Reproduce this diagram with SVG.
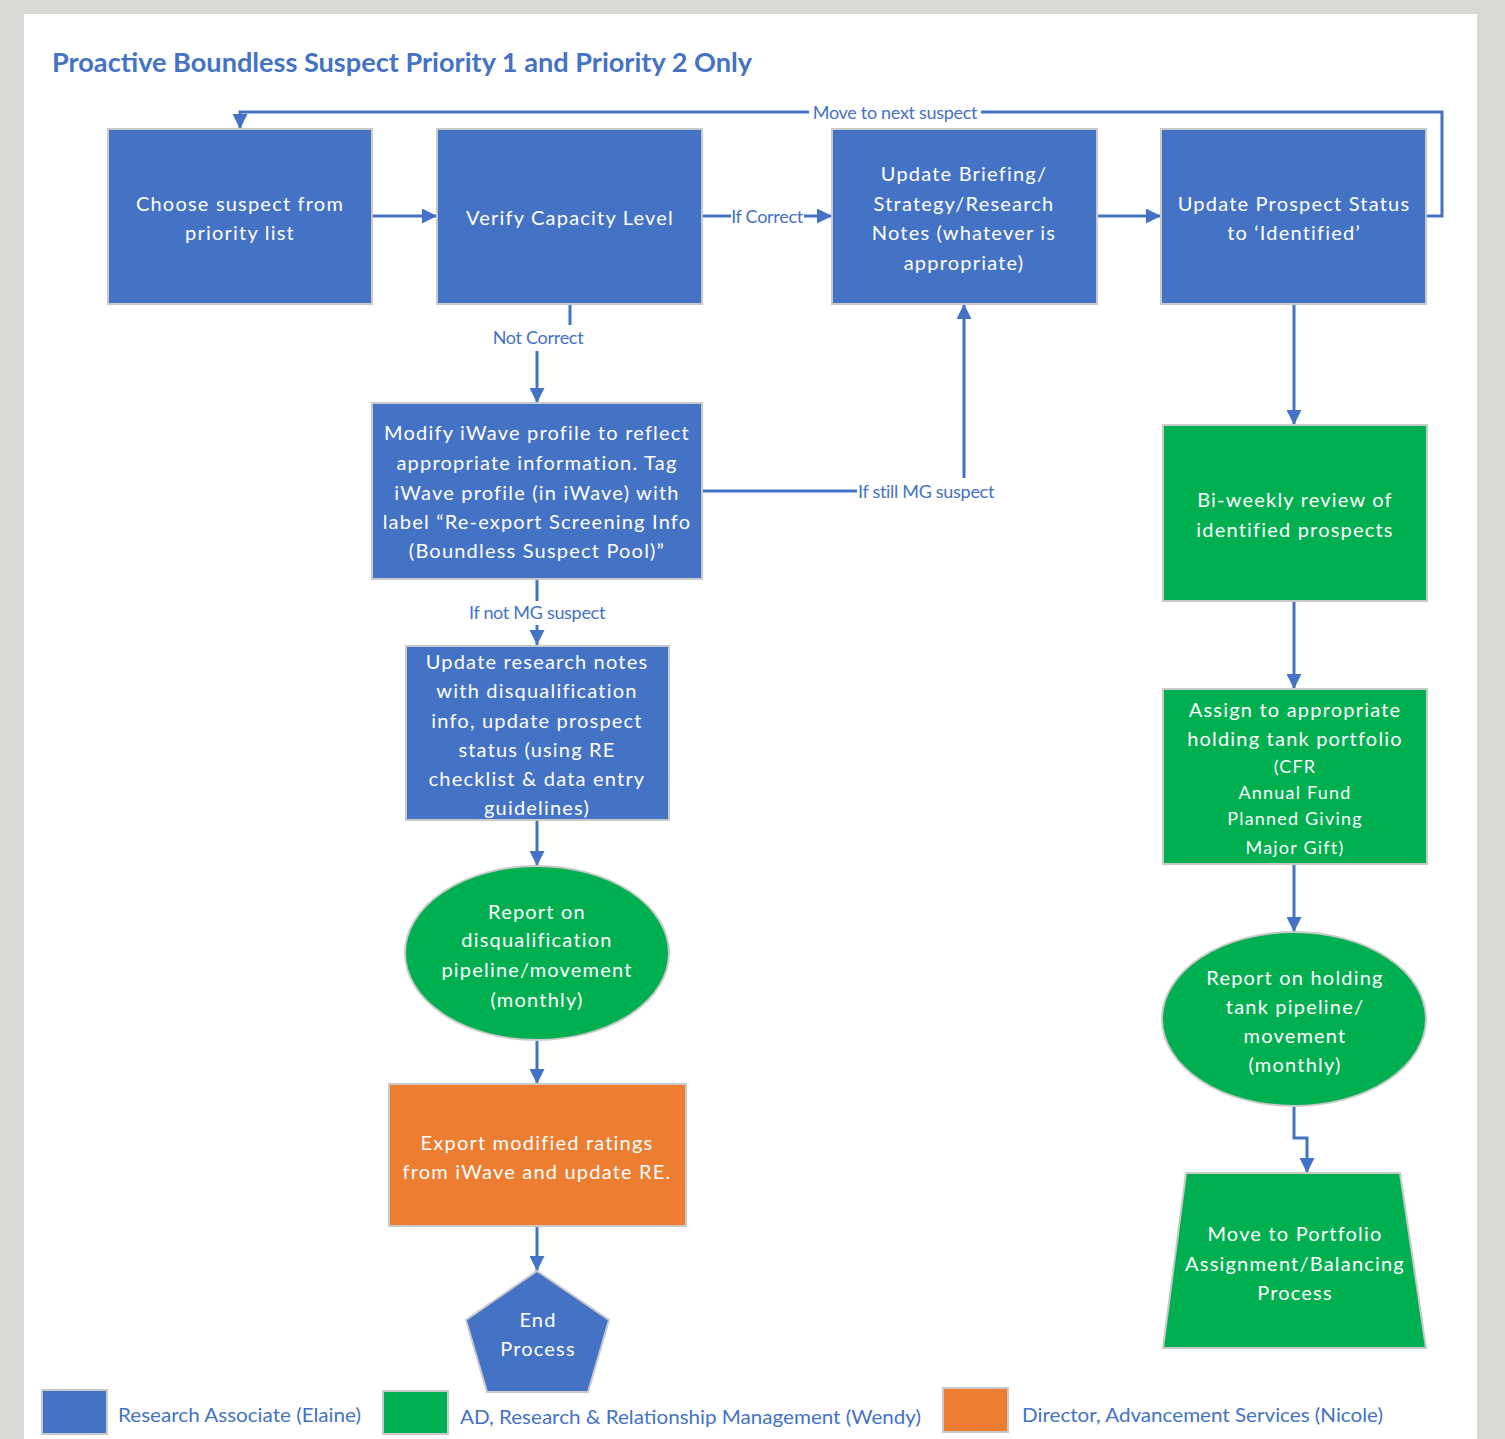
<svg xmlns="http://www.w3.org/2000/svg" width="1505" height="1439" viewBox="0 0 1505 1439">
<defs>
<marker id="arr" viewBox="0 0 10 10" refX="10" refY="5" markerWidth="15" markerHeight="15" markerUnits="userSpaceOnUse" orient="auto">
<path d="M0,0 L10,5 L0,10 z" fill="#4472c4"/>
</marker>
<style>
.bg{fill:#d9d9d5}
.panel{fill:#ffffff}
.title{font-family:Lato,"Liberation Sans",sans-serif;font-weight:bold;font-size:26px;fill:#4472c4}
.blue{fill:#4472c4;stroke:#c9c9c9;stroke-width:2}
.green{fill:#00b050;stroke:#c9c9c9;stroke-width:2}
.orange{fill:#ed7d31;stroke:#c9c9c9;stroke-width:2}
.t{font-family:Lato,"Liberation Sans",sans-serif;font-size:20px;fill:#ffffff;text-anchor:middle;dominant-baseline:central;letter-spacing:1.2px}
.ts{font-size:18px}
.c{fill:none;stroke:#4472c4;stroke-width:3}
.ca{fill:none;stroke:#4472c4;stroke-width:3;marker-end:url(#arr)}
.lbg{fill:#ffffff}
.lbl{font-family:Lato,"Liberation Sans",sans-serif;font-size:18px;fill:#4472c4;text-anchor:middle;dominant-baseline:central;letter-spacing:-0.3px}
.leg{font-family:Lato,"Liberation Sans",sans-serif;font-size:20px;fill:#4472c4;dominant-baseline:central}
</style>
</defs>
<rect class="bg" x="0" y="0" width="1505" height="1439"/>
<rect class="panel" x="24" y="14" width="1453" height="1425"/>
<text class="title" x="52" y="72" textLength="700" lengthAdjust="spacingAndGlyphs">Proactive Boundless Suspect Priority 1 and Priority 2 Only</text>

<g id="connectors">
<path class="ca" d="M372,216 H437"/>
<path class="ca" d="M702,216 H832"/>
<path class="ca" d="M1097,216 H1161"/>
<path class="ca" d="M1426,216 H1442 V112 H240 V129"/>
<path class="ca" d="M570,304 V337 H537 V403"/>
<path class="ca" d="M702,491 H964 V304"/>
<path class="ca" d="M537,579 V645"/>
<path class="ca" d="M537,820 V866"/>
<path class="ca" d="M537,1040 V1084"/>
<path class="ca" d="M537,1226 V1271"/>
<path class="ca" d="M1294,304 V425"/>
<path class="ca" d="M1294,601 V689"/>
<path class="ca" d="M1294,864 V932"/>
<path class="ca" d="M1294,1106 V1138 H1307 V1173"/>
<rect class="lbg" x="731" y="206" width="73" height="20"/>
<text class="lbl" x="767" y="216">If Correct</text>
<rect class="lbg" x="809" y="102" width="172" height="20"/>
<text class="lbl" x="895" y="112">Move to next suspect</text>
<rect class="lbg" x="490" y="325" width="96" height="26"/>
<text class="lbl" x="538" y="337">Not Correct</text>
<rect class="lbg" x="857" y="478" width="140" height="26"/>
<text class="lbl" x="926" y="491">If still MG suspect</text>
<rect class="lbg" x="465" y="601" width="144" height="24"/>
<text class="lbl" x="537" y="612">If not MG suspect</text>
</g>

<g id="n1">
<rect class="blue" x="108" y="129" width="264" height="175"/>
<text class="t" x="240" y="203">Choose suspect from</text>
<text class="t" x="240" y="232">priority list</text>
</g>
<g id="n2">
<rect class="blue" x="437" y="129" width="265" height="175"/>
<text class="t" x="570" y="217">Verify Capacity Level</text>
</g>
<g id="n3">
<rect class="blue" x="832" y="129" width="265" height="175"/>
<text class="t" x="964" y="173">Update Briefing/</text>
<text class="t" x="964" y="203">Strategy/Research</text>
<text class="t" x="964" y="232">Notes (whatever is</text>
<text class="t" x="964" y="262">appropriate)</text>
</g>
<g id="n4">
<rect class="blue" x="1161" y="129" width="265" height="175"/>
<text class="t" x="1294" y="203">Update Prospect Status</text>
<text class="t" x="1294" y="232">to ‘Identified’</text>
</g>
<g id="n5">
<rect class="blue" x="372" y="403" width="330" height="176"/>
<text class="t" x="537" y="432">Modify iWave profile to reflect</text>
<text class="t" x="537" y="462">appropriate information. Tag</text>
<text class="t" x="537" y="492">iWave profile (in iWave) with</text>
<text class="t" x="537" y="521">label “Re-export Screening Info</text>
<text class="t" x="537" y="550">(Boundless Suspect Pool)”</text>
</g>
<g id="n6">
<rect class="blue" x="406" y="646" width="263" height="174"/>
<text class="t" x="537" y="661">Update research notes</text>
<text class="t" x="537" y="690">with disqualification</text>
<text class="t" x="537" y="720">info, update prospect</text>
<text class="t" x="537" y="749">status (using RE</text>
<text class="t" x="537" y="778">checklist &amp; data entry</text>
<text class="t" x="537" y="807">guidelines)</text>
</g>
<g id="n7">
<ellipse class="green" cx="537" cy="953" rx="132" ry="87"/>
<text class="t" x="537" y="911">Report on</text>
<text class="t" x="537" y="939">disqualification</text>
<text class="t" x="537" y="969">pipeline/movement</text>
<text class="t" x="537" y="999">(monthly)</text>
</g>
<g id="n8">
<rect class="orange" x="389" y="1084" width="297" height="142"/>
<text class="t" x="537" y="1142">Export modified ratings</text>
<text class="t" x="537" y="1171">from iWave and update RE.</text>
</g>
<g id="n9">
<polygon class="blue" points="537,1271 609,1320 588,1392 487,1392 466,1320"/>
<text class="t" x="538" y="1319">End</text>
<text class="t" x="538" y="1348">Process</text>
</g>
<g id="n10">
<rect class="green" x="1163" y="425" width="264" height="176"/>
<text class="t" x="1295" y="499">Bi-weekly review of</text>
<text class="t" x="1295" y="529">identified prospects</text>
</g>
<g id="n11">
<rect class="green" x="1163" y="689" width="264" height="175"/>
<text class="t" x="1295" y="709">Assign to appropriate</text>
<text class="t" x="1295" y="738">holding tank portfolio</text>
<text class="t ts" x="1295" y="766">(CFR</text>
<text class="t ts" x="1295" y="792">Annual Fund</text>
<text class="t ts" x="1295" y="818">Planned Giving</text>
<text class="t ts" x="1295" y="847">Major Gift)</text>
</g>
<g id="n12">
<ellipse class="green" cx="1294" cy="1019" rx="132" ry="87"/>
<text class="t" x="1295" y="977">Report on holding</text>
<text class="t" x="1295" y="1006">tank pipeline/</text>
<text class="t" x="1295" y="1035">movement</text>
<text class="t" x="1295" y="1064">(monthly)</text>
</g>
<g id="n13">
<polygon class="green" points="1186,1173 1400,1173 1426,1348 1163,1348"/>
<text class="t" x="1295" y="1233">Move to Portfolio</text>
<text class="t" x="1295" y="1263">Assignment/Balancing</text>
<text class="t" x="1295" y="1292">Process</text>
</g>

<g id="legend">
<rect class="blue" x="42" y="1390" width="65" height="44"/>
<text class="leg" x="118" y="1414" textLength="243" lengthAdjust="spacingAndGlyphs">Research Associate (Elaine)</text>
<rect class="green" x="383" y="1391" width="65" height="43"/>
<text class="leg" x="460" y="1416" textLength="461" lengthAdjust="spacingAndGlyphs">AD, Research &amp; Relationship Management (Wendy)</text>
<rect class="orange" x="943" y="1388" width="65" height="44"/>
<text class="leg" x="1022" y="1414" textLength="361" lengthAdjust="spacingAndGlyphs">Director, Advancement Services (Nicole)</text>
</g>
</svg>
